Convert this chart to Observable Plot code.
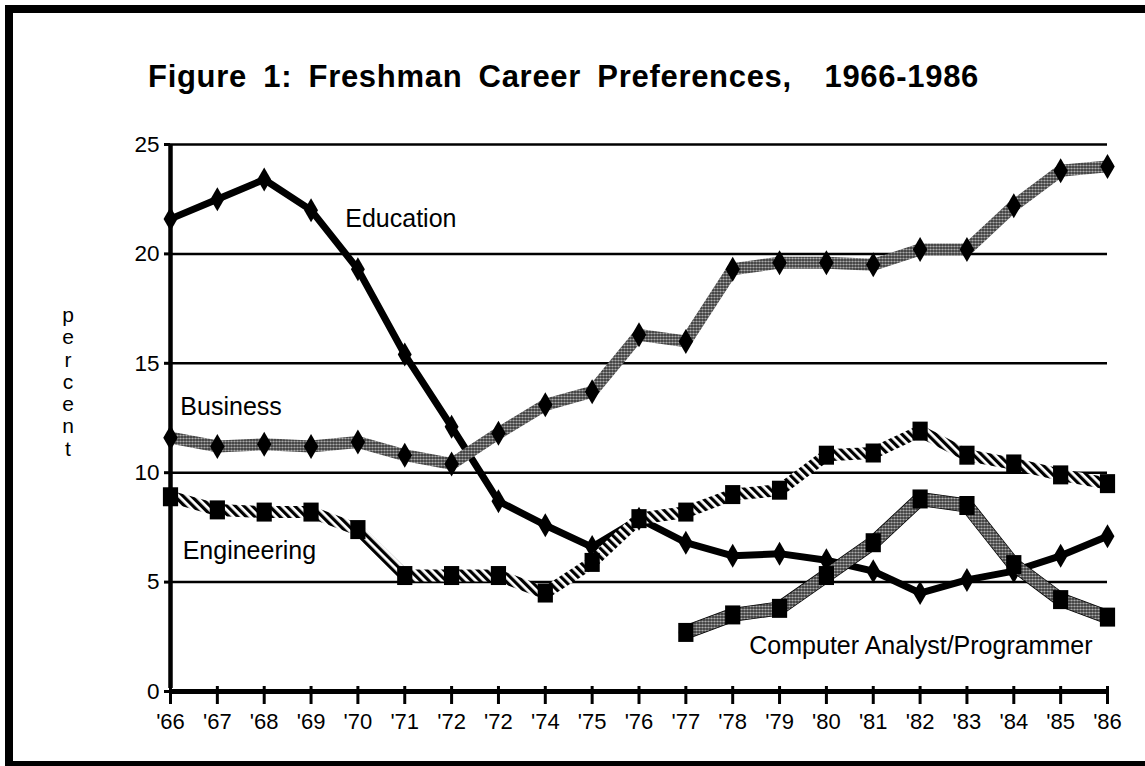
<!DOCTYPE html>
<html><head><meta charset="utf-8">
<script src="https://cdn.jsdelivr.net/npm/d3@7"></script>
<script src="https://cdn.jsdelivr.net/npm/@observablehq/plot@0.6"></script>
<style>
html,body{margin:0;padding:0;background:#fff;overflow:hidden;}
#wrap{position:relative;width:1145px;height:766px;overflow:hidden;font-family:"Liberation Sans",Arial,Helvetica,sans-serif;color:#000;}
#frame{position:absolute;left:5px;top:5px;width:1300px;height:748px;border-left:8px solid #000;border-top:8px solid #000;border-bottom:8px solid #000;}
#title{position:absolute;left:148px;top:61px;font-size:31px;font-weight:bold;line-height:31px;letter-spacing:0.7px;word-spacing:7px;white-space:pre;}
#chart{position:absolute;left:0;top:120px;}
#ylabel{position:absolute;left:56px;top:304px;width:24px;text-align:center;font-size:21px;line-height:22.3px;}
</style></head>
<body>
<div id="wrap">
  <div id="frame"></div>
  <div id="title">Figure 1: Freshman Career Preferences,  1966-1986</div>
  <div id="ylabel">p<br>e<br>r<br>c<br>e<br>n<br>t</div>
  <div id="chart"></div>
</div>
<script>
// ---- data ----
const xLabels = ["'66","'67","'68","'69","'70","'71","'72","'72","'74","'75","'76","'77","'78","'79","'80","'81","'82","'83","'84","'85","'86"];
const education   = [21.6,22.5,23.4,22.0,19.3,15.4,12.1,8.7,7.6,6.6,7.9,6.8,6.2,6.3,6.0,5.5,4.5,5.1,5.5,6.2,7.1];
const business    = [11.6,11.2,11.3,11.2,11.4,10.8,10.4,11.8,13.1,13.7,16.3,16.0,19.3,19.6,19.6,19.5,20.2,20.2,22.2,23.8,24.0];
const engineering = [8.9,8.3,8.2,8.2,7.4,5.3,5.3,5.3,4.5,5.9,7.9,8.2,9.0,9.2,10.8,10.9,11.9,10.8,10.4,9.9,9.5];
const computer    = [null,null,null,null,null,null,null,null,null,null,null,2.7,3.5,3.8,5.3,6.8,8.8,8.5,5.8,4.2,3.4];
const yTicks = [0,5,10,15,20,25];
const gridValues = [5,10,15,20,25];
const seriesLabels = [
  {text:"Education", x:3.73, y:21.6, anchor:"start"},
  {text:"Business", x:0.21, y:12.98, anchor:"start"},
  {text:"Engineering", x:0.26, y:6.44, anchor:"start"},
  {text:"Computer Analyst/Programmer", x:19.68, y:2.1, anchor:"end"}
];

const idx = xLabels.map((_, i) => i);
const rows = (vals) => vals.map((v, i) => ({i, v})).filter(d => d.v != null);
const xFirst = idx[0], xLast = idx[idx.length - 1];

const tallDiamond = {draw(ctx, size){ const r = Math.sqrt(size/Math.PI); const w = r*0.58;
  ctx.moveTo(0,-r); ctx.lineTo(w,0); ctx.lineTo(0,r); ctx.lineTo(-w,0); ctx.closePath(); }};
const tallSquare = {draw(ctx, size){ const r = Math.sqrt(size/Math.PI); const w = r*0.8;
  ctx.moveTo(-w,-r); ctx.lineTo(w,-r); ctx.lineTo(w,r); ctx.lineTo(-w,r); ctx.closePath(); }};

function defsMark() {
  const defs = d3.create("svg:defs");
  const st = defs.append("pattern").attr("id","stipple").attr("patternUnits","userSpaceOnUse")
    .attr("width",3).attr("height",3);
  st.append("rect").attr("width",3).attr("height",3).attr("fill","#fff");
  st.append("circle").attr("cx",1.5).attr("cy",1.5).attr("r",1.35).attr("fill","#000");
  const h = defs.append("pattern").attr("id","hatch").attr("patternUnits","userSpaceOnUse")
    .attr("width",6).attr("height",6).attr("patternTransform","rotate(-45)");
  h.append("rect").attr("width",6).attr("height",6).attr("fill","#fff");
  h.append("rect").attr("width",3.2).attr("height",6).attr("fill","#000");
  return defs.node();
}

const marks = [
  defsMark,
  Plot.ruleY(gridValues, {x1: xFirst, x2: xLast, stroke: "#000", strokeWidth: 2.5}),
  Plot.ruleX([xFirst], {y1: yTicks[0], y2: yTicks[yTicks.length-1], stroke: "#000", strokeWidth: 4.5, insetTop: -3}),
  Plot.ruleY([0], {x1: xFirst, x2: xLast, stroke: "#000", strokeWidth: 5}),
  Plot.ruleX(idx, {x: d => d, y1: 0, y2: 0, insetTop: -5, insetBottom: -13, stroke: "#000", strokeWidth: 3}),
  Plot.axisY({ticks: yTicks, tickSize: 6, tickPadding: 5, fontSize: 22.5, strokeWidth: 3, tickFormat: d => String(d)}),
  Plot.axisX({ticks: idx, tickSize: 0, tickPadding: 22, fontSize: 22, tickFormat: i => xLabels[i]}),
  // Education
  Plot.line(rows(education), {x: "i", y: "v", stroke: "#000", strokeWidth: 7}),
  Plot.dot(rows(education), {x: "i", y: "v", r: 12, symbol: tallDiamond, fill: "#000", stroke: "none"}),
  // Business
  Plot.line(rows(business), {x: "i", y: "v", stroke: "url(#stipple)", strokeWidth: 12}),
  Plot.dot(rows(business), {x: "i", y: "v", r: 12.5, symbol: tallDiamond, fill: "#000", stroke: "none"}),
  // Engineering
  Plot.line(rows(engineering), {x: "i", y: "v", stroke: "url(#hatch)", strokeWidth: 12}),
  Plot.dot(rows(engineering), {x: "i", y: "v", r: 9.5, symbol: tallSquare, fill: "#000", stroke: "none"}),
  // Computer
  Plot.line(rows(computer), {x: "i", y: "v", stroke: "#000", strokeWidth: 14}),
  Plot.line(rows(computer), {x: "i", y: "v", stroke: "url(#stipple)", strokeWidth: 12.5}),
  Plot.dot(rows(computer), {x: "i", y: "v", r: 9.5, symbol: tallSquare, fill: "#000", stroke: "none"}),
  ...seriesLabels.map(l => Plot.text([l], {x: "x", y: "y", text: "text", textAnchor: l.anchor, fontSize: 25, fill: "#000"}))
];

const chart = Plot.plot({
  width: 1145, height: 646,
  marginLeft: 170, marginRight: 38, marginTop: 24, marginBottom: 75,
  x: {domain: [xFirst, xLast], axis: null},
  y: {domain: [0, 25], axis: null},
  style: {background: "transparent", fontFamily: "'Liberation Sans', Arial, Helvetica, sans-serif", fontSize: "22px", color: "#000", overflow: "visible"},
  marks
});
document.getElementById("chart").appendChild(chart);
</script>
</body></html>
